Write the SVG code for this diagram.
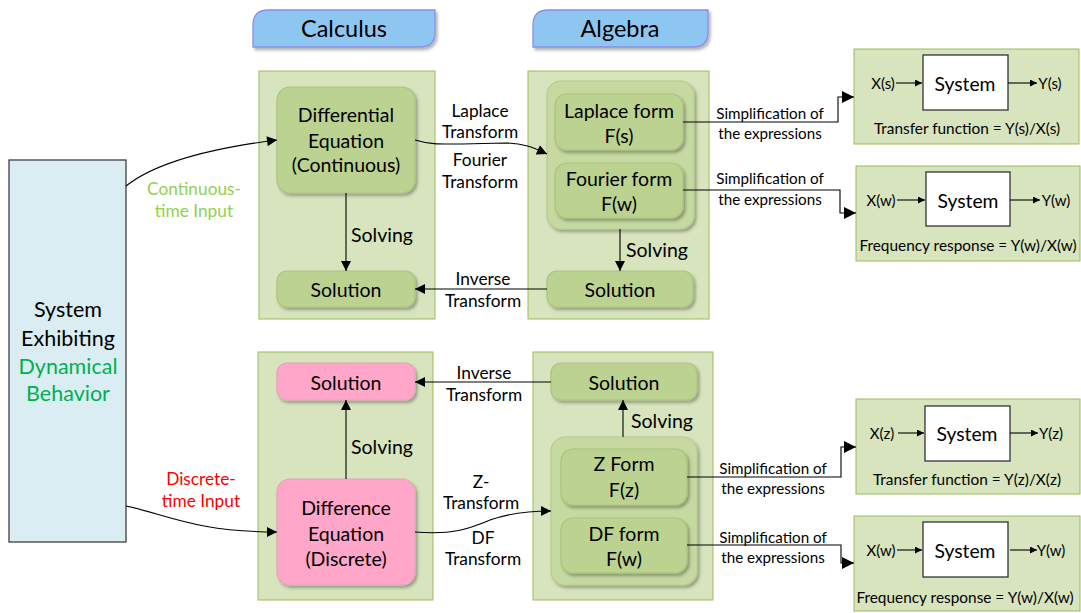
<svg xmlns="http://www.w3.org/2000/svg" width="1081" height="613" viewBox="0 0 1081 613">
<style>
text{font-family:Lato,"Open Sans","Liberation Sans",sans-serif;fill:#000;text-anchor:middle;dominant-baseline:central}
.node{font-size:19.5px}
.lbl{font-size:17.3px}
.simp{font-size:15.2px}
.sys{font-size:19.3px}
.io{font-size:15px}
.cap{font-size:15.4px}
.hdr{font-size:23.5px}
.start{text-anchor:start}
.cont{fill:#d7e4bd;stroke:#9bbb59;stroke-width:1}
.grp{fill:#c6d9a0;stroke:#b6cd88;stroke-width:1.2}
.nd{fill:#bcd291;stroke:#aac47c;stroke-width:1.2}
.pink{fill:#ffa6c9;stroke:#e7a3bd;stroke-width:1.2}
.hd{fill:#8ec6f2;stroke:#8a8ee6;stroke-width:1.3}
.sbox{fill:#fff;stroke:#333;stroke-width:1.3}
.ln{fill:none;stroke:#000;stroke-width:1.1}
</style>
<defs>
<filter id="sh" x="-10%" y="-10%" width="130%" height="140%">
<feDropShadow dx="2" dy="2.5" stdDeviation="1.5" flood-color="#000" flood-opacity="0.3"/>
</filter>
<marker id="ah" viewBox="0 0 10 10" refX="10" refY="5" markerWidth="11" markerHeight="10" markerUnits="userSpaceOnUse" orient="auto"><path d="M0,0 L10,5 L0,10 z" fill="#000"/></marker>
<marker id="as" viewBox="0 0 10 10" refX="10" refY="5" markerWidth="8" markerHeight="7" markerUnits="userSpaceOnUse" orient="auto"><path d="M0,0 L10,5 L0,10 z" fill="#000"/></marker>
<marker id="ab" viewBox="0 0 10 10" refX="10" refY="5" markerWidth="13" markerHeight="12" markerUnits="userSpaceOnUse" orient="auto"><path d="M0,0 L10,5 L0,10 z" fill="#000"/></marker>
</defs>
<rect width="1081" height="613" fill="#fff"/>

<g id="hdr-calculus">
<path class="hd" filter="url(#sh)" d="M253,47 L253,25 Q253,10 268,10 L435,10 L435,32 Q435,47 420,47 Z"/>
<text class="hdr" x="344" y="28">Calculus</text>
</g>
<g id="hdr-algebra">
<path class="hd" filter="url(#sh)" d="M533,47 L533,25 Q533,10 548,10 L708,10 L708,32 Q708,47 693,47 Z"/>
<text class="hdr" x="620" y="28">Algebra</text>
</g>

<g id="system">
<rect x="9" y="160" width="117" height="382" fill="#daedf3" stroke="#3f3f3f" stroke-width="1.3"/>
<text x="68" y="309" style="font-size:21.5px">System</text>
<text x="68" y="338" style="font-size:21.5px">Exhibiting</text>
<text x="68" y="366" style="font-size:21.5px;fill:#00b050">Dynamical</text>
<text x="68" y="393" style="font-size:21.5px;fill:#00b050">Behavior</text>
</g>

<g id="calc-top">
<rect class="cont" x="259" y="71" width="176" height="248"/>
</g>
<g id="alg-top">
<rect class="cont" x="528" y="71" width="181" height="248"/>
</g>
<g id="calc-bot">
<rect class="cont" x="258" y="352" width="175" height="248"/>
</g>
<g id="alg-bot">
<rect class="cont" x="533" y="352" width="180" height="248"/>
</g>

<g id="diff-eq">
<rect class="nd" filter="url(#sh)" x="277" y="87" width="138" height="106" rx="13"/>
<text class="node" x="346" y="114">Differential</text>
<text class="node" x="346" y="140">Equation</text>
<text class="node" x="346" y="164">(Continuous)</text>
</g>
<g id="sol-calc-top">
<rect class="nd" filter="url(#sh)" x="277" y="271" width="138" height="36" rx="10"/>
<text class="node" x="346" y="289">Solution</text>
</g>

<g id="forms-top">
<rect class="grp" filter="url(#sh)" x="547" y="81" width="147" height="148" rx="14"/>
</g>
<g id="laplace-form">
<rect class="nd" filter="url(#sh)" x="555" y="94" width="128" height="56" rx="12"/>
<text class="node" x="619" y="110">Laplace form</text>
<text class="node" x="619" y="135">F(s)</text>
</g>
<g id="fourier-form">
<rect class="nd" filter="url(#sh)" x="555" y="163" width="128" height="55" rx="12"/>
<text class="node" x="619" y="178">Fourier form</text>
<text class="node" x="619" y="203">F(w)</text>
</g>
<g id="sol-alg-top">
<rect class="nd" filter="url(#sh)" x="547" y="271" width="146" height="36" rx="10"/>
<text class="node" x="620" y="289">Solution</text>
</g>

<g id="sol-calc-bot">
<rect class="pink" filter="url(#sh)" x="277" y="363" width="138" height="37" rx="10"/>
<text class="node" x="346" y="382">Solution</text>
</g>
<g id="diff-eq-discrete">
<rect class="pink" filter="url(#sh)" x="277" y="479" width="138" height="106" rx="13"/>
<text class="node" x="346" y="507">Difference</text>
<text class="node" x="346" y="533">Equation</text>
<text class="node" x="346" y="558">(Discrete)</text>
</g>
<g id="sol-alg-bot">
<rect class="nd" filter="url(#sh)" x="551" y="363" width="146" height="37" rx="10"/>
<text class="node" x="624" y="382">Solution</text>
</g>
<g id="forms-bot">
<rect class="grp" filter="url(#sh)" x="551" y="437" width="146" height="148" rx="14"/>
</g>
<g id="z-form">
<rect class="nd" filter="url(#sh)" x="561" y="449" width="126" height="56" rx="12"/>
<text class="node" x="624" y="463">Z Form</text>
<text class="node" x="624" y="489">F(z)</text>
</g>
<g id="df-form">
<rect class="nd" filter="url(#sh)" x="561" y="518" width="126" height="55" rx="12"/>
<text class="node" x="624" y="533">DF form</text>
<text class="node" x="624" y="558">F(w)</text>
</g>

<g id="tf-s">
<rect class="cont" x="854" y="49" width="225" height="95"/>
<rect class="sbox" x="923" y="55" width="85" height="55"/>
<text class="sys" x="965" y="83">System</text>
<text class="io" x="883" y="83">X(s)</text>
<text class="io" x="1050" y="83">Y(s)</text>
<line class="ln" x1="896" y1="83" x2="922" y2="83" marker-end="url(#as)"/>
<line class="ln" x1="1008" y1="83" x2="1037" y2="83" marker-end="url(#as)"/>
<text class="cap" x="967" y="128">Transfer function = Y(s)/X(s)</text>
</g>
<g id="fr-w-top">
<rect class="cont" x="856" y="166" width="224" height="95"/>
<rect class="sbox" x="926" y="172" width="84" height="54"/>
<text class="sys" x="968" y="200">System</text>
<text class="io" x="881" y="200">X(w)</text>
<text class="io" x="1056" y="200">Y(w)</text>
<line class="ln" x1="897" y1="200" x2="925" y2="200" marker-end="url(#as)"/>
<line class="ln" x1="1010" y1="200" x2="1040" y2="200" marker-end="url(#as)"/>
<text class="cap" x="968" y="245">Frequency response = Y(w)/X(w)</text>
</g>
<g id="tf-z">
<rect class="cont" x="856" y="399" width="224" height="95"/>
<rect class="sbox" x="925" y="406" width="85" height="55"/>
<text class="sys" x="967" y="433">System</text>
<text class="io" x="882" y="433">X(z)</text>
<text class="io" x="1051" y="433">Y(z)</text>
<line class="ln" x1="898" y1="433" x2="924" y2="433" marker-end="url(#as)"/>
<line class="ln" x1="1010" y1="433" x2="1038" y2="433" marker-end="url(#as)"/>
<text class="cap" x="967" y="479">Transfer function = Y(z)/X(z)</text>
</g>
<g id="fr-w-bot">
<rect class="cont" x="854" y="516" width="226" height="95"/>
<rect class="sbox" x="923" y="522" width="85" height="55"/>
<text class="sys" x="965" y="550">System</text>
<text class="io" x="881" y="550">X(w)</text>
<text class="io" x="1051" y="550">Y(w)</text>
<line class="ln" x1="897" y1="550" x2="922" y2="550" marker-end="url(#as)"/>
<line class="ln" x1="1010" y1="550" x2="1037" y2="550" marker-end="url(#as)"/>
<text class="cap" x="965" y="597">Frequency response = Y(w)/X(w)</text>
</g>

<g id="connectors">
<path class="ln" d="M126,186 C155,163 205,149 277,140" marker-end="url(#ah)"/>
<path class="ln" d="M126,506 C165,514 195,532 277,532" marker-end="url(#ah)"/>
<path class="ln" d="M346,193 V271" marker-end="url(#ah)"/>
<path class="ln" d="M620,229 V271" marker-end="url(#ah)"/>
<path class="ln" d="M547,289 H415" marker-end="url(#ah)"/>
<path class="ln" d="M415,140 C432,145 442,144 462,144 L505,143 C525,143 536,149 547,154" marker-end="url(#ah)"/>
<path class="ln" d="M683,122 H838 V97 H854" marker-end="url(#ab)"/>
<path class="ln" d="M683,190 H840 V213 H856" marker-end="url(#ab)"/>
<path class="ln" d="M346,479 V400" marker-end="url(#ah)"/>
<path class="ln" d="M623,437 V400" marker-end="url(#ah)"/>
<path class="ln" d="M551,382 H415" marker-end="url(#ah)"/>
<path class="ln" d="M415,532 C455,535 470,528 490,520 C510,513 530,511 551,511" marker-end="url(#ah)"/>
<path class="ln" d="M687,477 H841 V447 H856" marker-end="url(#ab)"/>
<path class="ln" d="M687,545 H841 V563 H854" marker-end="url(#ab)"/>

<text class="lbl" x="194" y="188" style="fill:#92d050">Continuous-</text>
<text class="lbl" x="194" y="210" style="fill:#92d050">time Input</text>
<text class="lbl" x="201" y="478" style="fill:#ff0000">Discrete-</text>
<text class="lbl" x="201" y="500" style="fill:#ff0000">time Input</text>
<text class="node start" x="351" y="234">Solving</text>
<text class="node start" x="626" y="249">Solving</text>
<text class="node start" x="351" y="446">Solving</text>
<text class="node start" x="631" y="420">Solving</text>
<text class="lbl" x="480" y="110">Laplace</text>
<text class="lbl" x="480" y="131">Transform</text>
<text class="lbl" x="480" y="159">Fourier</text>
<text class="lbl" x="480" y="181">Transform</text>
<text class="lbl" x="483" y="278">Inverse</text>
<text class="lbl" x="483" y="300">Transform</text>
<text class="lbl" x="484" y="372">Inverse</text>
<text class="lbl" x="484" y="394">Transform</text>
<text class="lbl" x="481" y="481">Z-</text>
<text class="lbl" x="481" y="502">Transform</text>
<text class="lbl" x="483" y="537">DF</text>
<text class="lbl" x="483" y="558">Transform</text>
<text class="simp" x="770" y="113">Simplification of</text>
<text class="simp" x="770" y="133">the expressions</text>
<text class="simp" x="770" y="178">Simplification of</text>
<text class="simp" x="770" y="199">the expressions</text>
<text class="simp" x="773" y="468">Simplification of</text>
<text class="simp" x="773" y="488">the expressions</text>
<text class="simp" x="773" y="537">Simplification of</text>
<text class="simp" x="773" y="557">the expressions</text>
</g>
</svg>
